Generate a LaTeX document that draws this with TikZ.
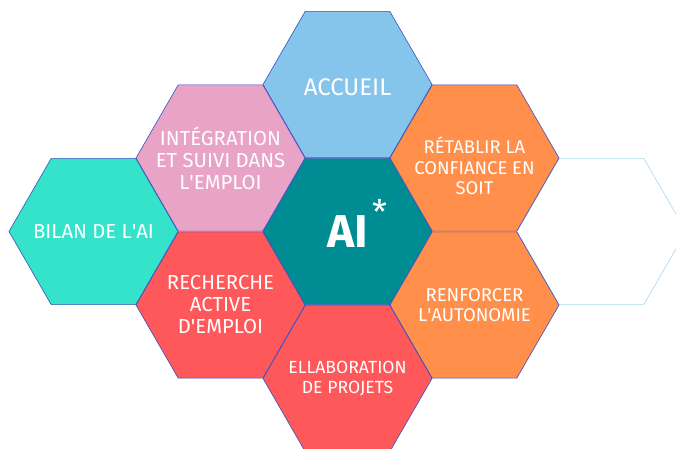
\documentclass[tikz,border=0pt]{standalone}
\usepackage{fontspec}
\setmainfont{Fira Sans}
\usepackage{tikz}
\usetikzlibrary{
  positioning,
  shapes.geometric,
}
\definecolor{hexedge}{RGB}{58,79,192}
\definecolor{hexlight}{RGB}{168,216,240}
\definecolor{hexblue}{RGB}{133,197,236}
\definecolor{hexpink}{RGB}{232,163,198}
\definecolor{hexorange}{RGB}{255,143,74}
\definecolor{hexteal}{RGB}{0,140,147}
\definecolor{hexturq}{RGB}{53,227,203}
\definecolor{hexred}{RGB}{255,88,90}
\newcommand{\apos}{\textquotesingle}
\tikzstyle{hex} = [
  regular polygon,
  regular polygon sides=6,
  minimum size=169pt,
  inner sep=0pt,
  draw=hexedge,
  line width=0.6pt,
]
\tikzstyle{hextext} = [
  text=white,
  align=center,
  font=\fontsize{20.3}{22}\selectfont,
]

\begin{document}
\begin{tikzpicture}[node distance=73.5pt and 127pt, on grid]
			\useasboundingbox (0,0) rectangle (676pt,448pt);

			\node[hex,fill=hexteal] (ai) at (347.5pt,216.5pt) {};
			\node[hex,draw=hexlight,fill=white] (empty) [right=254pt of ai] {};

			\node[hex,fill=hexblue,label={[hextext,font=\fontsize{24}{26}\selectfont,yshift=-3pt]center:ACCUEIL}] (accueil) [above=147pt of ai] {};
			\node[hex,fill=hexpink,label={[hextext]center:INTÉGRATION\\ET SUIVI DANS\\L\apos EMPLOI}] (integration) [above left=of ai] {};
			\node[hex,fill=hexorange,label={[hextext,font=\fontsize{18.4}{20.5}\selectfont,yshift=-8pt]center:RÉTABLIR LA\\CONFIANCE EN\\SOIT}] (confiance) [above right=of ai] {};
			\node[hex,fill=hexorange,label={[hextext,font=\fontsize{18.5}{20.5}\selectfont]center:RENFORCER\\L\apos AUTONOMIE}] (autonomie) [below right=of ai] {};
			\node[hex,fill=hexred,label={[hextext,font=\fontsize{17.6}{20.5}\selectfont]center:ELLABORATION\\DE PROJETS}] (projets) [below=147pt of ai] {};
			\node[hex,fill=hexred,label={[hextext]center:RECHERCHE\\ACTIVE\\D\apos EMPLOI}] (recherche) [below left=of ai] {};
			\node[hex,fill=hexturq,label={[hextext]center:BILAN DE L\apos AI}] (bilan) [left=254pt of ai] {};

			% titre central
			\node[text=white,font=\fontsize{46}{46}\selectfont\bfseries] (aititle) at (ai.center) {AI};
			\node[text=white,font=\fontsize{34}{34}\selectfont] (aistar) [above right=20pt and 32pt of ai] {*};
		\end{tikzpicture}
\end{document}
